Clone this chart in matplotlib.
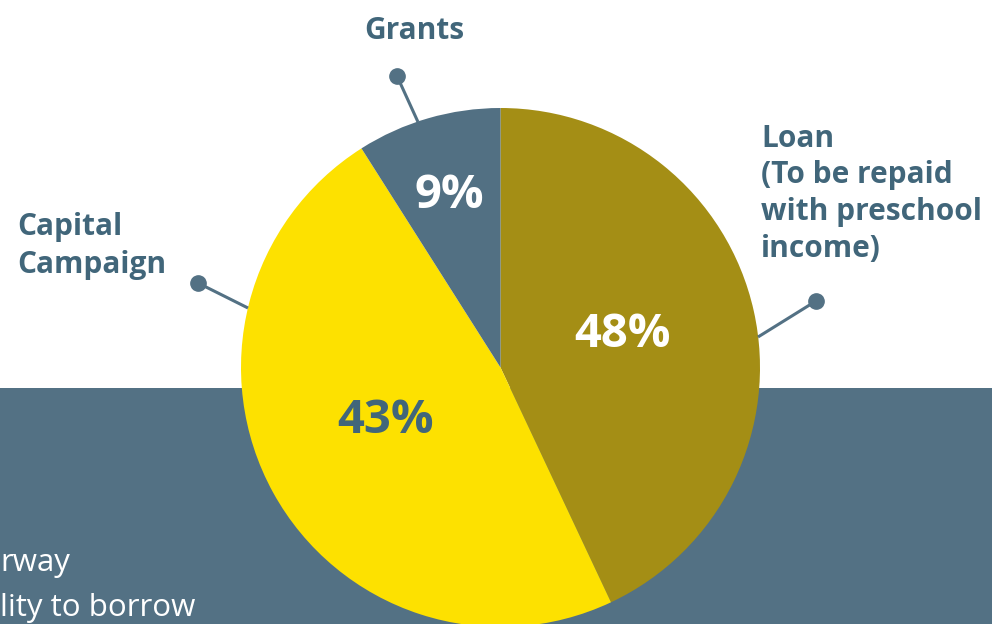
import matplotlib
matplotlib.use("Agg")
import matplotlib.pyplot as plt
from matplotlib.patches import Rectangle

# ---- data (slice sizes as drawn in the picture; labels as printed) ----
categories = ["Loan", "Capital Campaign", "Grants"]
values = [43, 48, 9]
pct_labels = ["48%", "43%", "9%"]
colors = ["#a48e15", "#fde100", "#527083"]
pct_colors = ["white", "#41667a", "white"]

W, H = 992, 624
fig = plt.figure(figsize=(W / 100, H / 100), dpi=100)
ax = fig.add_axes([0, 0, 1, 1])
fig.patch.set_facecolor("white")

FONT = ["Open Sans", "DejaVu Sans"]
TXT = "#41667a"
BAND = "#537184"

def Y(py):
    return H - py

# background band
ax.add_patch(Rectangle((0, 0), W, Y(388), facecolor=BAND, edgecolor="none", zorder=0))

cx, cy, r = 500.5, Y(367.5), 259.5
ax.pie(values, colors=colors, startangle=90, counterclock=False,
       center=(cx, cy), radius=r, wedgeprops=dict(linewidth=0, zorder=2),
       frame=False)

# percentage labels
pct_pos = [(622.5, 347), (385.5, 433), (449, 208)]
for lab, col, (px, py) in zip(pct_labels, pct_colors, pct_pos):
    ax.text(px, Y(py), lab, ha="center", va="baseline", fontsize=34,
            fontweight="bold", color=col, family=FONT, zorder=5)

# leader lines with dots
leaders = [((816, 301), (758, 337)), ((198, 283), (248, 308)), ((397, 76), (418, 122))]
for (dx, dy), (ex, ey) in leaders:
    ax.plot([dx, ex], [Y(dy), Y(ey)], color=BAND, lw=2.2, zorder=3,
            solid_capstyle="butt")
    ax.plot([dx], [Y(dy)], "o", color=BAND, markersize=11, zorder=4)

# category labels
def lines(txts, x, baselines, ha="left"):
    for t, b in zip(txts, baselines):
        ax.text(x, Y(b), t, ha=ha, va="baseline", fontsize=21.5, fontweight="bold",
                color=TXT, family=FONT, zorder=5)

lines(["Grants"], 414, [39], ha="center")
lines(["Loan", "(To be repaid", "with preschool", "income)"], 761, [147, 183, 220, 257])
lines(["Capital", "Campaign"], 17, [235, 273])

# cut-off body text in the band
ax.text(0, Y(571), "rway", ha="left", va="baseline", fontsize=22.5, color="white",
        family=FONT, zorder=5)
ax.text(0, Y(616), "lity to borrow", ha="left", va="baseline", fontsize=22.5,
        color="white", family=FONT, zorder=5)

ax.set_xlim(0, W)
ax.set_ylim(0, H)
ax.set_aspect("auto")
ax.axis("off")

fig.savefig("out.png", dpi=100, facecolor="white")
